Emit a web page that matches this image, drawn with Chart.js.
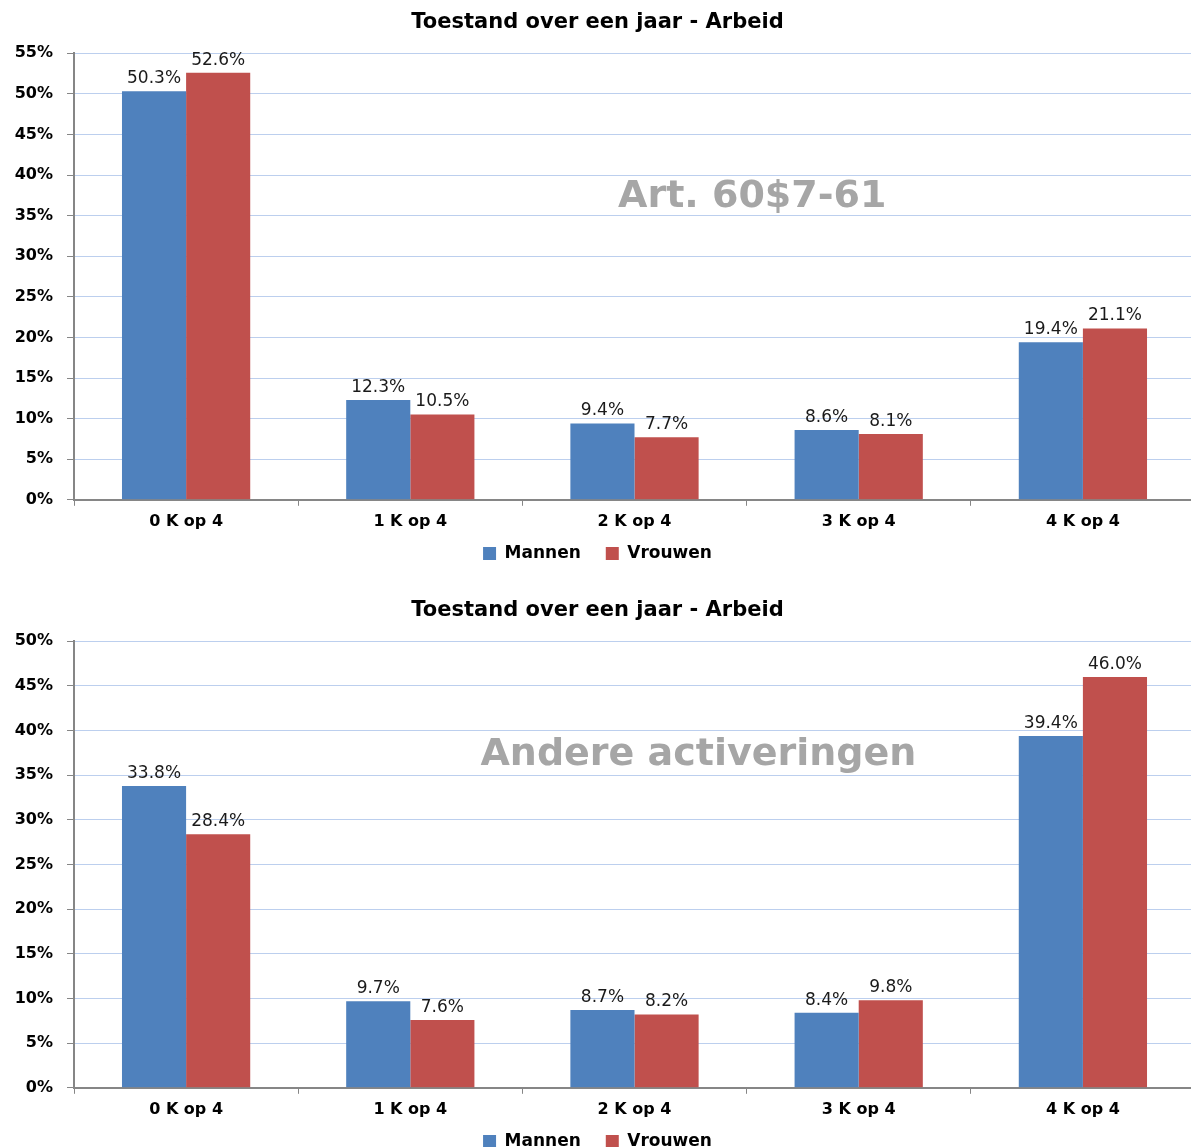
<!DOCTYPE html>
<html>
<head>
<meta charset="utf-8">
<script src="https://cdn.jsdelivr.net/npm/chart.js@4.4.1/dist/chart.umd.min.js"></script>
<style>
  html, body { margin: 0; padding: 0; background: #fff; overflow: hidden; }
  .box { position: absolute; left: 0; width: 1195px; height: 575px; }
</style>
</head>
<body>
<div class="box" style="top:0"><canvas id="art60"></canvas></div>
<div class="box" style="top:588px"><canvas id="andere"></canvas></div>
<script>
// data (percentages)
const categories = ['0 K op 4', '1 K op 4', '2 K op 4', '3 K op 4', '4 K op 4'];
const seriesNames = ['Mannen', 'Vrouwen'];
const art60Mannen = [50.3, 12.3, 9.4, 8.6, 19.4];
const art60Vrouwen = [52.6, 10.5, 7.7, 8.1, 21.1];
const andereMannen = [33.8, 9.7, 8.7, 8.4, 39.4];
const andereVrouwen = [28.4, 7.6, 8.2, 9.8, 46.0];

Chart.defaults.font.family = '"DejaVu Sans", Verdana, sans-serif';
Chart.defaults.color = '#000';

// value above each bar
const valueLabels = {
  id: 'valueLabels',
  afterDatasetsDraw(chart) {
    const ctx = chart.ctx;
    ctx.save();
    ctx.font = '17px "DejaVu Sans"';
    ctx.fillStyle = '#1a1a1a';
    ctx.textAlign = 'center';
    ctx.textBaseline = 'bottom';
    chart.data.datasets.forEach((ds, i) => {
      chart.getDatasetMeta(i).data.forEach((bar, j) => {
        ctx.fillText(ds.data[j].toFixed(1) + '%', bar.x, bar.y - 4);
      });
    });
    ctx.restore();
  }
};

// big grey text inside the plot
const watermark = {
  id: 'watermark',
  beforeDatasetsDraw(chart, args, opts) {
    if (!opts.text) return;
    const a = chart.chartArea;
    const ctx = chart.ctx;
    ctx.save();
    ctx.font = 'bold 38px "DejaVu Sans"';
    ctx.fillStyle = '#a6a6a6';
    ctx.textAlign = 'center';
    ctx.textBaseline = 'middle';
    ctx.fillText(opts.text, a.left + a.width * opts.fx, a.top + a.height * opts.fy);
    ctx.restore();
  }
};

function makeChart(id, mannen, vrouwen, yMax, mark) {
  return new Chart(document.getElementById(id), {
    type: 'bar',
    data: {
      labels: categories,
      datasets: [
        { label: seriesNames[0], data: mannen, backgroundColor: '#4f81bd' },
        { label: seriesNames[1], data: vrouwen, backgroundColor: '#c0504d' }
      ]
    },
    options: {
      responsive: true,
      maintainAspectRatio: false,
      animation: false,
      datasets: { bar: { categoryPercentage: 0.572, barPercentage: 1.0 } },
      layout: { padding: { top: 0, right: 0, bottom: 3, left: 0 } },
      plugins: {
        title: {
          display: true,
          text: 'Toestand over een jaar - Arbeid',
          font: { size: 21, weight: 'bold' },
          color: '#000',
          padding: { top: 10, bottom: 18 }
        },
        legend: {
          position: 'bottom',
          labels: {
            font: { size: 17, weight: 'bold' },
            color: '#000',
            boxWidth: 13,
            boxHeight: 13,
            padding: 8,
            // a little extra room between the two entries
            generateLabels(chart) {
              const items = Chart.defaults.plugins.legend.labels.generateLabels(chart);
              items.forEach((it, i) => { if (i < items.length - 1) it.text += '\u2002\u2002'; });
              return items;
            }
          }
        },
        tooltip: { enabled: false },
        watermark: mark
      },
      scales: {
        x: {
          grid: {
            offset: true,
            drawOnChartArea: false,
            tickLength: 6,
            tickColor: '#868686'
          },
          border: { color: '#868686', width: 2 },
          ticks: { font: { size: 16, weight: 'bold' }, color: '#000', padding: 6 }
        },
        y: {
          min: 0,
          max: yMax,
          afterFit(scale) { scale.width = 74; },
          grid: {
            color: '#bccfee',
            tickColor: '#868686',
            tickLength: 7
          },
          border: { color: '#868686', width: 2 },
          ticks: {
            stepSize: 5,
            font: { size: 16, weight: 'bold' },
            color: '#000',
            padding: 14,
            callback: v => v + '%'
          }
        }
      }
    },
    plugins: [valueLabels, watermark]
  });
}

makeChart('art60', art60Mannen, art60Vrouwen, 55, { text: 'Art. 60$7-61', fx: 0.605, fy: 0.323 });
makeChart('andere', andereMannen, andereVrouwen, 50, { text: 'Andere activeringen', fx: 0.557, fy: 0.255 });
</script>
</body>
</html>
